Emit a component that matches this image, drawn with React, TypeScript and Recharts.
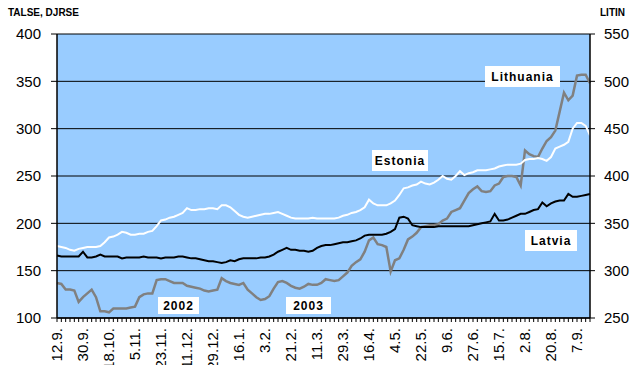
import { LineChart, Line, XAxis, YAxis, CartesianGrid } from 'recharts';

// every third day, 12.9.2002 - 16.9.2003
const dates = [
  '12.9.', '15.9.', '18.9.', '21.9.', '24.9.', '27.9.', '30.9.',
  '3.10.', '6.10.', '9.10.', '12.10.', '15.10.', '18.10.', '21.10.', '24.10.', '27.10.', '30.10.',
  '2.11.', '5.11.', '8.11.', '11.11.', '14.11.', '17.11.', '20.11.', '23.11.', '26.11.', '29.11.',
  '2.12.', '5.12.', '8.12.', '11.12.', '14.12.', '17.12.', '20.12.', '23.12.', '26.12.', '29.12.',
  '1.1.', '4.1.', '7.1.', '10.1.', '13.1.', '16.1.', '19.1.', '22.1.', '25.1.', '28.1.', '31.1.',
  '3.2.', '6.2.', '9.2.', '12.2.', '15.2.', '18.2.', '21.2.', '24.2.', '27.2.',
  '2.3.', '5.3.', '8.3.', '11.3.', '14.3.', '17.3.', '20.3.', '23.3.', '26.3.', '29.3.',
  '1.4.', '4.4.', '7.4.', '10.4.', '13.4.', '16.4.', '19.4.', '22.4.', '25.4.', '28.4.',
  '1.5.', '4.5.', '7.5.', '10.5.', '13.5.', '16.5.', '19.5.', '22.5.', '25.5.', '28.5.', '31.5.',
  '3.6.', '6.6.', '9.6.', '12.6.', '15.6.', '18.6.', '21.6.', '24.6.', '27.6.', '30.6.',
  '3.7.', '6.7.', '9.7.', '12.7.', '15.7.', '18.7.', '21.7.', '24.7.', '27.7.', '30.7.',
  '2.8.', '5.8.', '8.8.', '11.8.', '14.8.', '17.8.', '20.8.', '23.8.', '26.8.', '29.8.',
  '1.9.', '4.9.', '7.9.', '10.9.', '13.9.', '16.9.',
];

const tickLabels = [
  '12.9.', '30.9.', '18.10.', '5.11.', '23.11.', '11.12.', '29.12.', '16.1.', '3.2.', '21.2.', '11.3.',
  '29.3.', '16.4.', '4.5.', '22.5.', '9.6.', '27.6.', '15.7.', '2.8.', '20.8.', '7.9.',
];

// TALSE (left axis)
const estonia = [
  176, 175, 174, 172, 171, 173, 174, 175, 175, 175, 176, 180, 185, 186, 188, 191, 190, 188, 188, 189,
  189, 191, 192, 197, 203, 204, 206, 207, 209, 211, 216, 214, 214, 215, 215, 216, 216, 215, 219, 219,
  217, 213, 209, 207, 206, 207, 208, 209, 210, 210, 211, 212, 210, 208, 206, 205, 205, 205, 205, 206,
  205, 205, 205, 205, 205, 206, 208, 209, 211, 212, 214, 217, 225, 221, 219, 219, 219, 221, 224, 230,
  237, 238, 240, 241, 244, 242, 241, 243, 246, 250, 247, 246, 250, 255, 251, 253, 254, 256, 256, 256,
  257, 258, 260, 261, 262, 262, 262, 263, 267, 268, 268, 269, 268, 266, 270, 279, 281, 283, 286, 300,
  306, 306, 303, 293,
];

// DJRSE (left axis)
const latvia = [
  166, 165, 165, 165, 165, 165, 170, 164, 164, 165, 167, 165, 165, 165, 165, 163, 164, 164, 164, 164,
  165, 164, 164, 164, 163, 164, 164, 164, 165, 165, 164, 163, 163, 162, 161, 160, 160, 159, 158, 159,
  161, 160, 162, 163, 163, 163, 163, 164, 164, 165, 167, 170, 172, 174, 172, 172, 171, 171, 170, 171,
  174, 176, 177, 177, 178, 179, 180, 180, 181, 182, 184, 187, 188, 188, 188, 188, 189, 191, 194, 206,
  207, 205, 198, 197, 196, 196, 196, 196, 197, 197, 197, 197, 197, 197, 197, 197, 198, 199, 200, 201,
  202, 210, 203, 203, 204, 206, 208, 210, 210, 212, 214, 215, 222, 218, 221, 223, 224, 224, 231, 228,
  228, 229, 230, 231,
];

// LITIN (right axis)
const lithuania = [
  287, 286, 280, 280, 279, 267, 272, 276, 280, 272, 257, 257, 256, 260, 260, 260, 260, 261, 262, 272,
  275, 276, 276, 290, 291, 291, 289, 287, 287, 287, 284, 283, 282, 281, 279, 278, 279, 280, 292, 289,
  287, 286, 285, 287, 280, 276, 272, 269, 270, 273, 281, 288, 289, 287, 284, 282, 281, 283, 286, 285,
  285, 287, 291, 290, 289, 290, 294, 298, 305, 309, 312, 320, 332, 335, 328, 327, 325, 299, 311, 313,
  322, 333, 336, 340, 346, 347, 348, 348, 349, 353, 355, 362, 364, 366, 374, 382, 386, 389, 384, 383,
  384, 390, 392, 399, 400, 400, 399, 390, 427, 423, 421, 420, 429, 437, 441, 448, 468, 488, 480, 485,
  506, 507, 507, 498,
];

const chartData = dates.map((date, i) => ({
  date,
  estonia: estonia[i],
  latvia: latvia[i],
  lithuania: lithuania[i],
}));

const font = 'Arial, "Liberation Sans", sans-serif';

function DateTick({ x, y, payload }: any) {
  if (!tickLabels.includes(payload.value)) return <g />;
  return (
    <g transform={`translate(${x},${y}) rotate(-90)`}>
      <text x={0} y={0} dy="0.35em" textAnchor="end" fill="#000" fontSize={15} fontFamily={font}>
        {payload.value}
      </text>
    </g>
  );
}

const boxStyle: any = {
  position: 'absolute',
  background: '#fff',
  fontFamily: font,
  fontWeight: 'bold',
  fontSize: 12,
  letterSpacing: 1,
  display: 'flex',
  alignItems: 'center',
  justifyContent: 'center',
  color: '#000',
};

export default function App() {
  return (
    <div style={{ position: 'absolute', left: 0, top: 0, width: 636, height: 365, background: '#fff', overflow: 'hidden' }}>
      <LineChart width={636} height={365} data={chartData} margin={{ top: 34, right: 0, bottom: 0, left: 0 }}>
        <CartesianGrid yAxisId="left" vertical={false} stroke="#000" fill="#99CCFF" fillOpacity={1} />
        <XAxis
          dataKey="date"
          interval={0}
          height={47}
          tick={<DateTick />}
          tickSize={4}
          tickMargin={6}
          axisLine={{ stroke: '#000', strokeWidth: 1.5 }}
          tickLine={{ stroke: '#000' }}
        />
        <YAxis
          yAxisId="left"
          width={57}
          domain={[100, 400]}
          ticks={[100, 150, 200, 250, 300, 350, 400]}
          tickSize={6}
          tickMargin={10}
          axisLine={{ stroke: '#000', strokeWidth: 1.5 }}
          tickLine={{ stroke: '#000' }}
          tick={{ fill: '#000', fontSize: 15, fontFamily: font }}
        />
        <YAxis
          yAxisId="right"
          orientation="right"
          width={46}
          domain={[250, 550]}
          ticks={[250, 300, 350, 400, 450, 500, 550]}
          tickSize={5}
          tickMargin={9}
          axisLine={{ stroke: '#000', strokeWidth: 1.5 }}
          tickLine={{ stroke: '#000' }}
          tick={{ fill: '#000', fontSize: 15, fontFamily: font }}
        />
        <Line yAxisId="right" dataKey="lithuania" stroke="#808080" strokeWidth={2.5} dot={false} isAnimationActive={false} />
        <Line yAxisId="left" dataKey="estonia" stroke="#fff" strokeWidth={2} dot={false} isAnimationActive={false} />
        <Line yAxisId="left" dataKey="latvia" stroke="#000" strokeWidth={2} dot={false} isAnimationActive={false} />
      </LineChart>

      <div style={{ position: 'absolute', left: 8, top: 7, fontFamily: font, fontWeight: 'bold', fontSize: 10 }}>TALSE, DJRSE</div>
      <div style={{ position: 'absolute', left: 600, top: 7, fontFamily: font, fontWeight: 'bold', fontSize: 10 }}>LITIN</div>

      <div style={{ ...boxStyle, left: 485, top: 66, width: 75, height: 21 }}>Lithuania</div>
      <div style={{ ...boxStyle, left: 372, top: 150, width: 56, height: 21 }}>Estonia</div>
      <div style={{ ...boxStyle, left: 525, top: 230, width: 52, height: 21 }}>Latvia</div>
      <div style={{ ...boxStyle, left: 158, top: 297, width: 41, height: 17 }}>2002</div>
      <div style={{ ...boxStyle, left: 286, top: 297, width: 45, height: 17 }}>2003</div>
    </div>
  );
}
